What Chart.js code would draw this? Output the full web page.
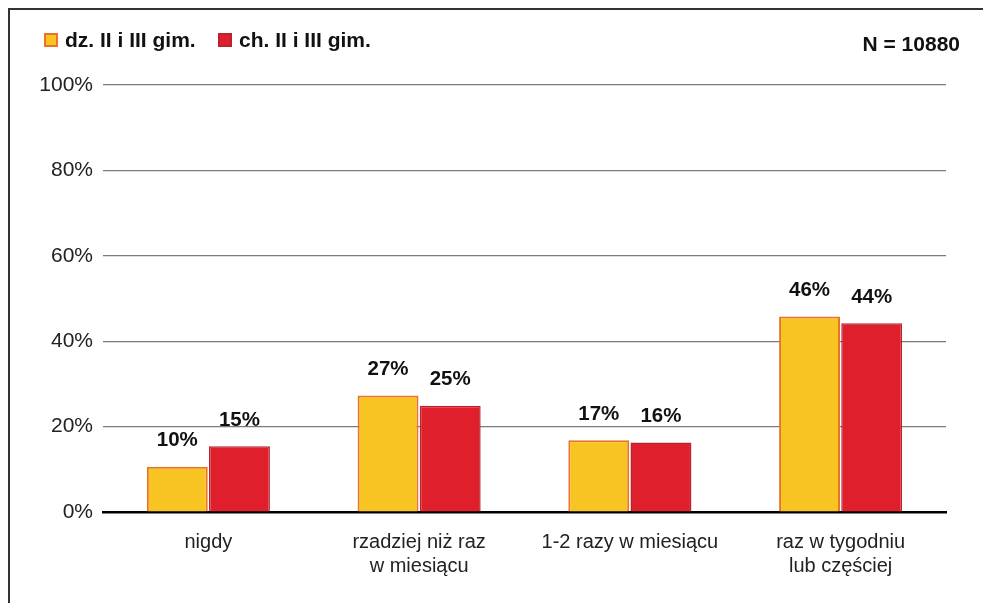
<!DOCTYPE html>
<html>
<head>
<meta charset="utf-8">
<script src="https://cdn.jsdelivr.net/npm/chart.js@4/dist/chart.umd.min.js"></script>
<style>
  html, body { margin: 0; padding: 0; background: #fff; }
  #wrap { width: 983px; height: 603px; position: relative; }
</style>
</head>
<body>
<div id="wrap"><canvas id="chart"></canvas></div>
<script>
const categories = ['nigdy', ['rzadziej niż raz', 'w miesiącu'], '1-2 razy w miesiącu', ['raz w tygodniu', 'lub częściej']];
const girlsValues = [10.6, 27.3, 16.8, 45.8];
const boysValues = [15.4, 24.9, 16.3, 44.2];
const girlsLabels = ['10%', '27%', '17%', '46%'];
const boysLabels = ['15%', '25%', '16%', '44%'];
const yTicks = [0, 20, 40, 60, 80, 100];
const seriesNames = ['dz. II i III gim.', 'ch. II i III gim.'];
const sampleNote = 'N = 10880';

const FONT = '"Liberation Sans", Arial, sans-serif';

// frame, legend, N note and value labels
const decorations = {
  id: 'decorations',
  afterDatasetsDraw(chart) {
    const ctx = chart.ctx;
    ctx.save();
    // value labels
    ctx.font = 'bold 20.5px ' + FONT;
    ctx.fillStyle = '#111';
    ctx.textAlign = 'center';
    ctx.textBaseline = 'middle';
    const labelSets = [girlsLabels, boysLabels];
    chart.data.datasets.forEach((ds, i) => {
      chart.getDatasetMeta(i).data.forEach((bar, j) => {
        ctx.fillText(labelSets[i][j], bar.x, bar.y - 26);
      });
    });
    ctx.restore();
  },
  afterDraw(chart) {
    const ctx = chart.ctx;
    ctx.save();
    // frame
    ctx.strokeStyle = '#333';
    ctx.lineWidth = 2;
    ctx.beginPath();
    ctx.moveTo(9, 603);
    ctx.lineTo(9, 9);
    ctx.lineTo(983, 9);
    ctx.stroke();
    // legend
    ctx.font = 'bold 21px ' + FONT;
    ctx.textBaseline = 'middle';
    ctx.textAlign = 'left';
    const legendX = [44, 218];
    chart.data.datasets.forEach((ds, i) => {
      const x = legendX[i];
      ctx.fillStyle = ds.backgroundColor;
      ctx.fillRect(x, 33, 14, 14);
      ctx.strokeStyle = ds.borderColor;
      ctx.lineWidth = 2;
      ctx.strokeRect(x + 1, 34, 12, 12);
      ctx.fillStyle = '#111';
      ctx.fillText(ds.label, x + 21, 41);
    });
    ctx.textAlign = 'right';
    ctx.fillText(sampleNote, 960, 45);
    ctx.restore();
  }
};

new Chart(document.getElementById('chart').getContext('2d'), {
  type: 'bar',
  data: {
    labels: categories,
    datasets: [
      {
        label: seriesNames[0],
        data: girlsValues,
        backgroundColor: '#F8C421',
        borderColor: '#E8732A',
        borderWidth: 2,
      },
      {
        label: seriesNames[1],
        data: boysValues,
        backgroundColor: '#E01F2C',
        borderColor: '#B8252F',
        borderWidth: 1.5,
      },
    ],
  },
  options: {
    responsive: true,
    maintainAspectRatio: false,
    animation: false,
    devicePixelRatio: 1,
    layout: { padding: { top: 85, right: 37, left: 0, bottom: 0 } },
    datasets: {
      bar: { categoryPercentage: 0.59, barPercentage: 0.98 },
    },
    plugins: {
      legend: { display: false },
      tooltip: { enabled: false },
    },
    scales: {
      x: {
        grid: { display: false, drawTicks: false },
        border: { color: '#000', width: 2.5 },
        ticks: { color: '#222', font: { family: FONT, size: 20 }, padding: 18, maxRotation: 0 },
        afterFit(scale) { scale.height = 91; },
      },
      y: {
        min: 0,
        max: 100,
        afterBuildTicks(scale) { scale.ticks = yTicks.map(v => ({ value: v })); },
        grid: {
          color: (c) => c.tick && c.tick.value === 0 ? 'rgba(0,0,0,0)' : '#7a7a7a',
          lineWidth: 1.2,
          drawTicks: false,
        },
        border: { display: false },
        ticks: {
          color: '#222',
          font: { family: FONT, size: 21 },
          padding: 10,
          callback: (v) => v + '%',
        },
        afterFit(scale) { scale.width = 103; },
      },
    },
  },
  plugins: [decorations],
});
</script>
</body>
</html>
